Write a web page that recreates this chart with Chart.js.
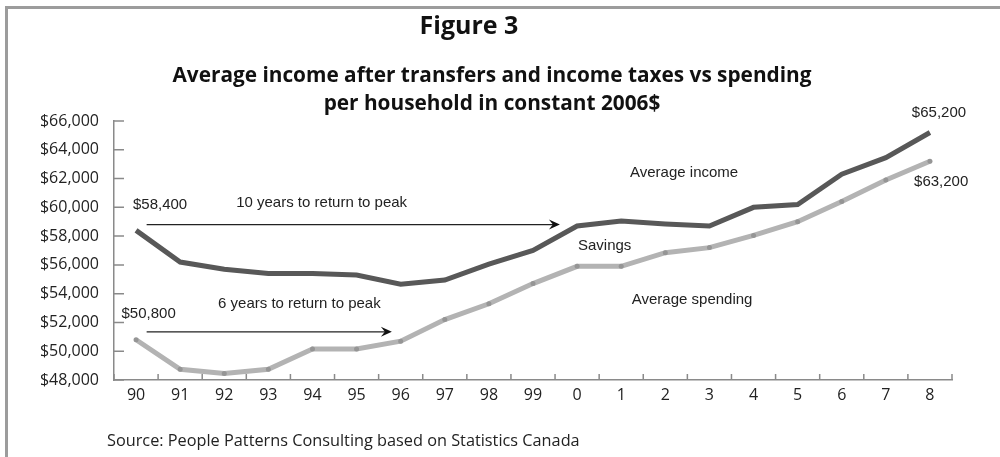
<!DOCTYPE html>
<html>
<head>
<meta charset="utf-8">
<title>Figure 3</title>
<script src="https://cdn.jsdelivr.net/npm/chart.js@4.4.1/dist/chart.umd.min.js"></script>
<style>
    html, body { margin: 0; padding: 0; background: #fff; }
    body { width: 1000px; height: 457px; position: relative; overflow: hidden; }
    #frame {
        position: absolute; left: 5px; top: 6px; right: 0; bottom: 0;
        border-left: 3px solid #9c9c9c; border-top: 3px solid #9c9c9c;
    }
    #chart { position: absolute; left: 0; top: 0; }
    .head {
        position: absolute; left: 0; width: 1000px; text-align: center;
        font-family: 'Open Sans', sans-serif; font-weight: 700; color: #111;
        white-space: nowrap;
    }
    #figNo { top: 7px; left: -31px; font-size: 25px; }
    #title { top: 60px; left: -8px; font-size: 20.8px; line-height: 28px; }
    #source {
        position: absolute; left: 107px; top: 429px;
        font-family: 'Open Sans', sans-serif; font-size: 16.3px; color: #222;
        white-space: nowrap;
    }
</style>
</head>
<body>
<div id="frame"></div>
<canvas id="chart" width="1000" height="457"></canvas>
<div class="head" id="figNo">Figure 3</div>
<div class="head" id="title">Average income after transfers and income taxes vs spending<br>per household in constant 2006$</div>
<div id="source">Source: People Patterns Consulting based on Statistics Canada</div>

<script>
// Years 1990-2008, shown the way the source labels them
const years = ['90', '91', '92', '93', '94', '95', '96', '97', '98', '99',
               '0', '1', '2', '3', '4', '5', '6', '7', '8'];

// Average income after transfers and income taxes, per household (2006$)
const income = [58400, 56200, 55700, 55400, 55400, 55300, 54650, 54950, 56050, 57000,
                58700, 59050, 58850, 58700, 60000, 60200, 62300, 63450, 65200];

// Average spending per household (2006$)
const spending = [50800, 48750, 48450, 48750, 50150, 50150, 50700, 52200, 53300, 54700,
                  55900, 55900, 56850, 57200, 58050, 59000, 60400, 61900, 63200];

const yMin = 48000;
const yMax = 66000;
const yStep = 2000;

// Text notes placed in data space: x = year index, y = dollars
const notes = [
    { text: '$58,400', x: -0.07, y: 60200 },
    { text: '10 years to return to peak', x: 2.27, y: 60300 },
    { text: '$50,800', x: -0.33, y: 52600 },
    { text: '6 years to return to peak', x: 1.86, y: 53300 },
    { text: 'Average income', x: 11.2, y: 62400 },
    { text: 'Savings', x: 10.02, y: 57300 },
    { text: 'Average spending', x: 11.24, y: 53550 },
    { text: '$65,200', x: 17.59, y: 66550 },
    { text: '$63,200', x: 17.64, y: 61800 }
];

// "Years to return to peak" arrows
const arrows = [
    { from: 0.24, to: 9.61, y: 58800 },
    { from: 0.24, to: 5.8, y: 51350 }
];

const fmtDollar = v => '$' + v.toLocaleString('en-US');

// Short tick marks pointing into the plot, plus the notes and arrows
const decorPlugin = {
    id: 'decor',
    afterDatasetsDraw(chart) {
        const { ctx, chartArea, scales: { x, y } } = chart;
        ctx.save();
        ctx.strokeStyle = '#8a8a8a';
        ctx.lineWidth = 1.5;

        // x ticks sit between the years
        ctx.beginPath();
        for (let i = 0; i <= years.length; i++) {
            const px = x.getPixelForValue(i - 0.5);
            ctx.moveTo(px, chartArea.bottom);
            ctx.lineTo(px, chartArea.bottom - 6);
        }
        // y ticks
        for (let v = yMin; v <= yMax; v += yStep) {
            const py = y.getPixelForValue(v);
            ctx.moveTo(chartArea.left, py);
            ctx.lineTo(chartArea.left + 10, py);
        }
        ctx.stroke();

        // arrows
        ctx.strokeStyle = '#222';
        ctx.fillStyle = '#111';
        ctx.lineWidth = 1.2;
        arrows.forEach(a => {
            const x0 = x.getPixelForValue(a.from);
            const x1 = x.getPixelForValue(a.to);
            const py = y.getPixelForValue(a.y);
            ctx.beginPath();
            ctx.moveTo(x0, py);
            ctx.lineTo(x1 - 6, py);
            ctx.stroke();
            ctx.beginPath();
            ctx.moveTo(x1, py);
            ctx.lineTo(x1 - 11, py - 5);
            ctx.lineTo(x1 - 7, py);
            ctx.lineTo(x1 - 11, py + 5);
            ctx.closePath();
            ctx.fill();
        });

        // notes
        ctx.fillStyle = '#222';
        ctx.font = '15px "Liberation Sans", Arial, sans-serif';
        ctx.textAlign = 'left';
        ctx.textBaseline = 'middle';
        notes.forEach(n => {
            ctx.fillText(n.text, x.getPixelForValue(n.x), y.getPixelForValue(n.y));
        });
        ctx.restore();
    }
};

new Chart(document.getElementById('chart'), {
    type: 'line',
    data: {
        labels: years,
        datasets: [
            {
                label: 'Average income',
                data: income,
                borderColor: '#585858',
                borderWidth: 5,
                pointRadius: 0,
                tension: 0
            },
            {
                label: 'Average spending',
                data: spending,
                borderColor: '#b3b3b3',
                borderWidth: 5,
                pointRadius: 2.5,
                pointBackgroundColor: '#959595',
                pointBorderWidth: 0,
                tension: 0
            }
        ]
    },
    options: {
        responsive: false,
        animation: false,
        events: [],
        layout: { padding: { left: 0, right: 48, top: 121, bottom: 0 } },
        plugins: {
            legend: { display: false },
            tooltip: { enabled: false }
        },
        scales: {
            x: {
                offset: true,
                grid: { display: false, drawTicks: false },
                border: { display: true, color: '#8a8a8a', width: 1.5 },
                ticks: {
                    color: '#222',
                    padding: 6,
                    maxRotation: 0,
                    autoSkip: false,
                    font: { family: 'Open Sans', size: 16 }
                },
                afterFit(scale) { scale.height = 77; }
            },
            y: {
                min: yMin,
                max: yMax,
                grid: { display: false, drawTicks: false },
                border: { display: true, color: '#8a8a8a', width: 1.5 },
                ticks: {
                    stepSize: yStep,
                    color: '#222',
                    padding: 15,
                    font: { family: 'Open Sans', size: 16 },
                    callback: v => fmtDollar(v)
                },
                afterFit(scale) { scale.width = 114; }
            }
        }
    },
    plugins: [decorPlugin]
});
</script>
</body>
</html>
